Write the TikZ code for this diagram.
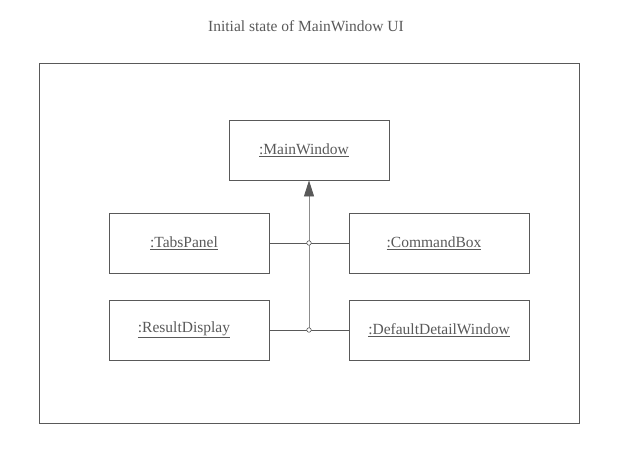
\documentclass[tikz,border=0pt]{standalone}
\usepackage{fontspec}
\setmainfont{Liberation Serif}
\usetikzlibrary{arrows.meta}

\definecolor{umlgray}{HTML}{595959}
\definecolor{linkgray}{HTML}{8C8C8C}

\tikzset{
    obj/.style = {draw = umlgray, line width = 0.8pt, minimum height = 60pt, text = umlgray, font = \fontsize{15.5}{18}\selectfont, inner sep = 0pt},
    joint/.style = {circle, draw = umlgray, fill = white, line width = 0.6pt, minimum size = 4.5pt, inner sep = 0pt}
}

\begin{document}
\begin{tikzpicture}[x = 1pt, y = -1pt]
    \useasboundingbox (0,0) rectangle (618,455);
    \node[text = umlgray, font = \fontsize{15.5}{18}\selectfont] (title) at (306,26) {Initial state of MainWindow UI};
    \draw[umlgray, line width = 0.8pt] (39,63) rectangle (579,423);
    \node[obj, minimum width = 160pt] (mainwin) at (309,150) {\underline{:MainWindow}\kern10pt};
    \node[obj, minimum width = 160pt] (tabs) at (189,243) {\underline{:TabsPanel}\kern10pt};
    \node[obj, minimum width = 180pt] (cmdbox) at (439,243) {\underline{:CommandBox}\kern10pt};
    \node[obj, minimum width = 160pt] (result) at (189,330) {\underline{:ResultDisplay}\kern10pt};
    \node[obj, minimum width = 180pt] (detail) at (439,330) {\underline{:DefaultDetailWindow}};
    \coordinate (jtop) at (309,243);
    \coordinate (jbot) at (309,330);
    \draw[umlgray, line width = 0.8pt]
    (tabs.east) -- (cmdbox.west)
    (result.east) -- (detail.west);
    \draw[linkgray, line width = 0.8pt, -{Triangle[length = 16pt, width = 10pt, fill = umlgray, color = umlgray]}]
    (jbot) -- (mainwin.south);
    \node[joint] at (jtop) {};
    \node[joint] at (jbot) {};
\end{tikzpicture}
\end{document}
